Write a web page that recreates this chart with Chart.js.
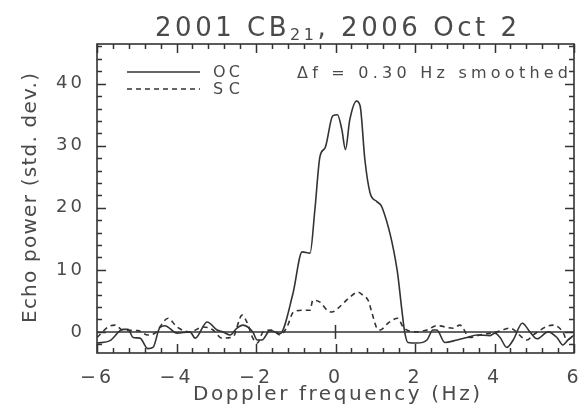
<!DOCTYPE html>
<html lang="en">
<head>
<meta charset="UTF-8">
<title>2001 CB21, 2006 Oct 2</title>
<style>
  body { margin: 0; background: white; }
</style>
<script src="https://cdn.jsdelivr.net/npm/chart.js"></script>
</head>
<body>
<canvas id="echoChart" width="585" height="417"></canvas>
<script>
// OC (solid) spectrum
const ocFreq = [-6.00, -5.67, -5.35, -5.22, -5.09, -4.92, -4.72, -4.59, -4.42, -4.29,
  -3.99, -3.66, -3.53, -3.23, -2.98, -2.83, -2.65, -2.48, -2.33, -2.08,
  -1.97, -1.85, -1.65, -1.47, -1.40, -1.07, -0.84, -0.64, -0.52, -0.39,
  -0.26, -0.07, 0.05, 0.16, 0.25, 0.36, 0.53, 0.62, 0.74, 0.87,
  1.04, 1.17, 1.55, 1.67, 1.74, 1.82, 2.05, 2.30, 2.45, 2.55,
  2.75, 3.06, 3.31, 3.56, 3.89, 4.01, 4.14, 4.31, 4.47, 4.70,
  4.89, 5.07, 5.35, 5.57, 5.72, 5.85, 6.00];
const ocPower = [-1.8, -1.4, 0.4, 0.4, -0.9, -1.0, -2.7, -2.5, 0.7, 1.0,
  -0.2, 0.0, -1.0, 1.6, 0.3, 0.0, -0.5, 0.6, 1.1, 0.0,
  -1.3, -1.3, 0.2, -0.1, -0.3, 6.2, 12.9, 12.7, 19.6, 28.3,
  29.7, 34.8, 35.0, 32.6, 29.4, 34.2, 37.2, 36.4, 27.7, 22.4,
  21.0, 20.1, 10.0, 3.5, 0.0, -1.7, -1.8, -1.3, 0.3, 0.3,
  -1.7, -1.3, -0.9, -0.5, -0.6, -0.2, -0.9, -2.5, -1.3, 1.4,
  0.0, -1.1, 0.0, -0.9, -2.1, -1.3, -0.5];

// SC (dashed) spectrum
const scFreq = [-6.00, -5.72, -5.55, -5.35, -4.97, -4.72, -4.54, -4.21, -3.99, -3.66,
  -3.33, -3.08, -2.86, -2.58, -2.35, -2.23, -2.08, -1.97, -1.82, -1.60,
  -1.40, -1.22, -1.07, -0.84, -0.64, -0.57, -0.39, -0.21, -0.09, 0.06,
  0.36, 0.57, 0.69, 0.82, 0.92, 1.04, 1.12, 1.32, 1.57, 1.70,
  2.00, 2.30, 2.55, 2.96, 3.13, 3.38, 3.64, 4.06, 4.39, 4.82,
  4.97, 5.47, 5.72, 5.82, 6.00];
const scPower = [-0.9, 0.8, 1.1, 0.3, 0.2, -0.5, -0.2, 2.2, 0.8, 0.0,
  0.8, 0.3, -1.0, -0.8, 2.7, 1.6, -1.0, -1.8, 0.0, 0.3,
  -0.5, 0.8, 3.1, 3.5, 3.5, 5.1, 4.8, 3.5, 3.2, 3.8,
  5.6, 6.4, 5.9, 5.1, 3.0, 0.6, 0.3, 1.4, 2.2, 0.8,
  0.0, 0.3, 1.0, 0.6, 1.1, -0.9, -0.5, 0.0, 0.6, -1.3,
  -0.5, 1.1, 0.0, -1.3, -0.5];

const xTickValues = [-6, -4, -2, 0, 2, 4, 6];
const yTickValues = [0, 10, 20, 30, 40];

const ink = '#333';
const textInk = '#4a4a4a';
const face = '"DejaVu Sans", sans-serif';

// spread text so it spans a given width (the original font is widely spaced)
function spacedText(ctx, text, x, y, width, size) {
  ctx.font = size + 'px ' + face;
  ctx.letterSpacing = '0px';
  const w0 = ctx.measureText(text).width;
  const sp = (width - w0) / Math.max(text.length - 1, 1);
  ctx.letterSpacing = sp + 'px';
  ctx.fillText(text, x, y);
  ctx.letterSpacing = '0px';
}

function seg(ctx, x1, y1, x2, y2) {
  ctx.beginPath();
  ctx.moveTo(x1, y1);
  ctx.lineTo(x2, y2);
  ctx.stroke();
}

const framePlugin = {
  id: 'frame',
  beforeDraw(chart) {
    chart.ctx.letterSpacing = '3px';
  },
  afterDraw(chart) {
    const ctx = chart.ctx;
    const { left, right, top, bottom } = chart.chartArea;
    const xs = chart.scales.x, ys = chart.scales.y;
    ctx.save();
    ctx.letterSpacing = '0px';
    ctx.setLineDash([]);
    ctx.strokeStyle = ink;
    ctx.lineWidth = 1.6;
    ctx.strokeRect(left, top, right - left, bottom - top);

    ctx.lineWidth = 1.5;
    // x ticks, top and bottom, pointing inwards
    for (let i = 0; i <= 30; i++) {
      const px = Math.round(xs.getPixelForValue(-6 + i * 0.4)) + 0.5;
      const len = (i % 5 === 0) ? 9 : 5;
      seg(ctx, px, bottom, px, bottom - len);
      seg(ctx, px, top, px, top + len);
    }
    // y ticks, left and right
    for (let v = -2; v <= 46; v += 2) {
      const py = Math.round(ys.getPixelForValue(v)) + 0.5;
      const len = (v % 10 === 0) ? 9 : 5;
      seg(ctx, left, py, left + len, py);
      seg(ctx, right, py, right - len, py);
    }
    // zero line with a mark at 0 Hz
    const y0 = ys.getPixelForValue(0);
    seg(ctx, left, y0, right, y0);
    const x0 = xs.getPixelForValue(0);
    seg(ctx, x0, y0 - 7, x0, y0 + 7);

    // legend
    ctx.lineWidth = 1.6;
    seg(ctx, 127, 72, 200, 72);
    ctx.setLineDash([5, 4]);
    seg(ctx, 127, 89, 200, 89);
    ctx.setLineDash([]);

    ctx.fillStyle = textInk;
    ctx.textAlign = 'left';
    ctx.textBaseline = 'alphabetic';
    spacedText(ctx, 'OC', 213, 77, 27, 16);
    spacedText(ctx, 'SC', 213, 93.5, 27, 16);
    spacedText(ctx, '\u0394f = 0.30 Hz smoothed', 297, 78, 271, 16);

    // title with subscript
    const big = 26, small = 16;
    const parts = [['2001 CB', big, 0], ['21', small, 4], [', 2006 Oct 2', big, 0]];
    let total = 0, chars = 0;
    parts.forEach(p => {
      ctx.font = p[1] + 'px ' + face;
      total += ctx.measureText(p[0]).width;
      chars += p[0].length;
    });
    const sp = (362 - total) / (chars - 1);
    let tx = 155;
    ctx.letterSpacing = sp + 'px';
    parts.forEach(p => {
      ctx.font = p[1] + 'px ' + face;
      ctx.fillText(p[0], tx, 35.5 + p[2]);
      tx += ctx.measureText(p[0]).width;
    });
    ctx.letterSpacing = '0px';

    // axis titles
    spacedText(ctx, 'Doppler frequency (Hz)', 193, 400, 287, 20);
    ctx.translate(36, 323);
    ctx.rotate(-Math.PI / 2);
    spacedText(ctx, 'Echo power (std. dev.)', 0, 0, 250, 20);
    ctx.restore();
  }
};

new Chart(document.getElementById('echoChart'), {
  type: 'line',
  data: {
    datasets: [
      {
        label: 'OC',
        data: ocFreq.map((f, i) => ({ x: f, y: ocPower[i] })),
        borderColor: ink,
        borderWidth: 1.6,
        pointRadius: 0,
        cubicInterpolationMode: 'monotone',
        fill: false
      },
      {
        label: 'SC',
        data: scFreq.map((f, i) => ({ x: f, y: scPower[i] })),
        borderColor: ink,
        borderWidth: 1.6,
        borderDash: [5, 4],
        pointRadius: 0,
        cubicInterpolationMode: 'monotone',
        fill: false
      }
    ]
  },
  options: {
    responsive: false,
    animation: false,
    devicePixelRatio: 1,
    layout: { padding: { left: 0, right: 11, top: 44, bottom: 0 } },
    plugins: { legend: { display: false }, title: { display: false }, tooltip: { enabled: false } },
    scales: {
      x: {
        type: 'linear',
        min: -6,
        max: 6,
        grid: { display: false, drawTicks: false },
        border: { display: false },
        afterBuildTicks: s => { s.ticks = xTickValues.map(v => ({ value: v })); },
        afterFit: s => { s.height = 64; s.paddingLeft = 0; s.paddingRight = 0; },
        ticks: {
          padding: 14,
          color: textInk,
          font: { family: face, size: 19 },
          callback: v => String(v).replace('-', '\u2212')
        }
      },
      y: {
        min: -3.4,
        max: 46.4,
        grid: { display: false, drawTicks: false },
        border: { display: false },
        afterBuildTicks: s => { s.ticks = yTickValues.map(v => ({ value: v })); },
        afterFit: s => { s.width = 97; s.paddingTop = 0; s.paddingBottom = 0; },
        ticks: {
          padding: 12,
          color: textInk,
          font: { family: face, size: 18 }
        }
      }
    }
  },
  plugins: [framePlugin]
});
</script>
</body>
</html>
